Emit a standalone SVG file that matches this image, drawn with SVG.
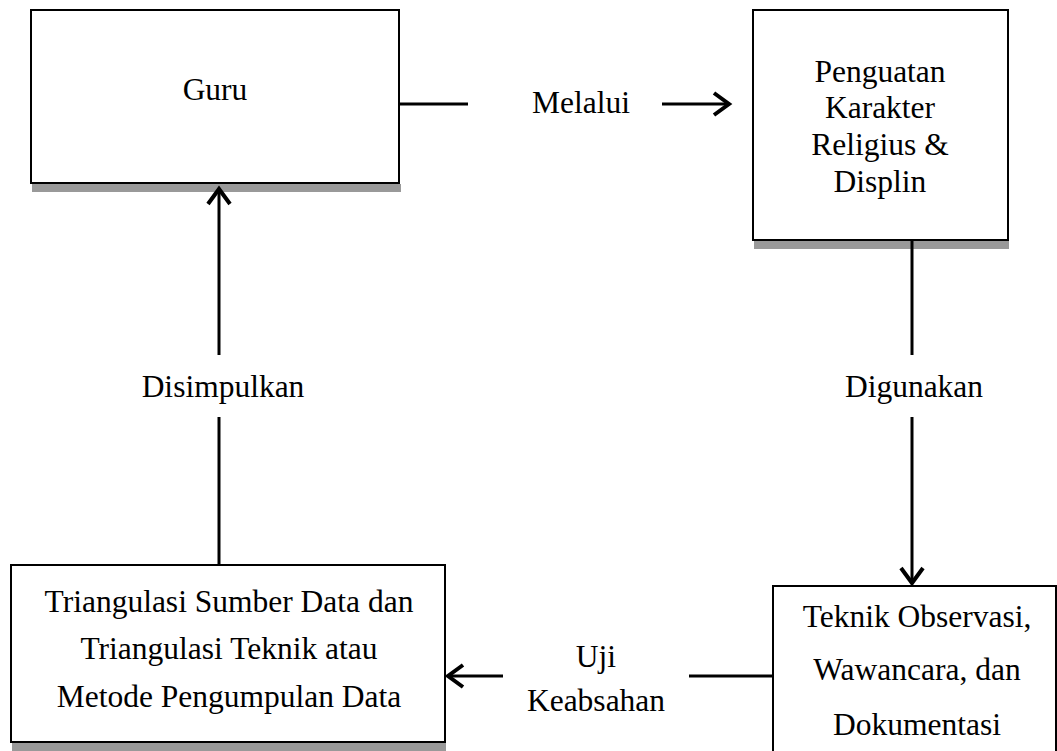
<svg xmlns="http://www.w3.org/2000/svg" width="1057" height="751" viewBox="0 0 1057 751">
<style>
.box{fill:#fff;stroke:#000;stroke-width:2}
.shadow{fill:#999}
.t{font-family:"Liberation Serif","Times New Roman",serif;font-size:31.5px;fill:#000;text-anchor:middle}
.c{stroke:#000;stroke-width:3;fill:none}
.ah{stroke:#000;stroke-width:4;fill:none;stroke-linecap:butt;stroke-linejoin:miter}
</style>
<rect width="1057" height="751" fill="#fff"/>
<g id="guru">
<rect class="shadow" x="32" y="184" width="369" height="8"/>
<rect class="box" x="31" y="10" width="368" height="173"/>
<text class="t" x="215" y="100">Guru</text>
</g>
<g id="penguatan">
<rect class="shadow" x="754" y="241" width="255" height="8"/>
<rect class="box" x="753" y="10" width="255" height="230"/>
<text class="t" x="880" y="82">Penguatan</text>
<text class="t" x="880" y="118">Karakter</text>
<text class="t" x="880" y="155">Religius &amp;</text>
<text class="t" x="880" y="192">Displin</text>
</g>
<g id="triangulasi">
<rect class="shadow" x="12" y="743" width="434" height="8"/>
<rect class="box" x="11" y="565" width="434" height="177"/>
<text class="t" x="229" y="612">Triangulasi Sumber Data dan</text>
<text class="t" x="229" y="659">Triangulasi Teknik atau</text>
<text class="t" x="229" y="707">Metode Pengumpulan Data</text>
</g>
<g id="teknik">
<rect class="box" x="773" y="586" width="283" height="166"/>
<text class="t" x="917" y="627">Teknik Observasi,</text>
<text class="t" x="917" y="680">Wawancara, dan</text>
<text class="t" x="917" y="735">Dokumentasi</text>
</g>
<g id="connectors">
<line class="c" x1="399" y1="104" x2="468" y2="104"/>
<text class="t" x="581" y="113">Melalui</text>
<line class="c" x1="662" y1="104" x2="728" y2="104"/>
<path class="ah" d="M714,93 L729,104 L714,115"/>
<line class="c" x1="912" y1="240" x2="912" y2="355"/>
<text class="t" x="914" y="397">Digunakan</text>
<line class="c" x1="912" y1="417" x2="912" y2="581"/>
<path class="ah" d="M901,568 L912,583 L923,568"/>
<line class="c" x1="773" y1="676" x2="689" y2="676"/>
<text class="t" x="596" y="667">Uji</text>
<text class="t" x="596" y="711">Keabsahan</text>
<line class="c" x1="503" y1="676" x2="450" y2="676"/>
<path class="ah" d="M463,665 L448,676 L463,687"/>
<line class="c" x1="219" y1="565" x2="219" y2="417"/>
<text class="t" x="223" y="397">Disimpulkan</text>
<line class="c" x1="219" y1="355" x2="219" y2="192"/>
<path class="ah" d="M208,204 L219,189 L230,204"/>
</g>
</svg>
